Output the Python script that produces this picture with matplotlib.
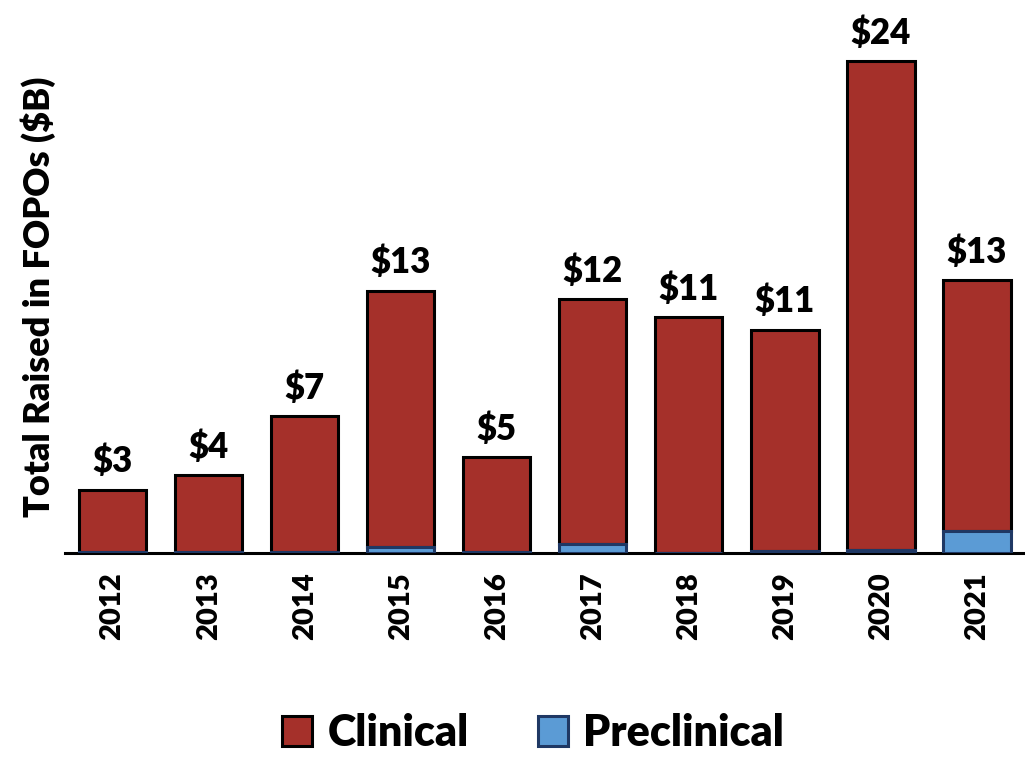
import matplotlib.pyplot as plt

years = ["2012", "2013", "2014", "2015", "2016", "2017", "2018", "2019", "2020", "2021"]
totals = [3.1, 3.8, 6.7, 12.8, 4.7, 12.4, 11.5, 10.9, 24.0, 13.3]
preclinical = [0.05, 0.05, 0.05, 0.3, 0.05, 0.45, 0.0, 0.1, 0.15, 1.1]
clinical = [t - p for t, p in zip(totals, preclinical)]
labels = ["$3", "$4", "$7", "$13", "$5", "$12", "$11", "$11", "$24", "$13"]

plt.rcParams['font.family'] = ['Lato', 'DejaVu Sans']
plt.rcParams['font.weight'] = 'bold'

fig = plt.figure(figsize=(10.25, 7.61), dpi=100)
ax = fig.add_axes([0.063, 0.273, 0.937, 0.674])

x = range(len(years))
ax.bar(x, preclinical, width=0.7, color="#5B9BD5", edgecolor="#1F3864",
       linewidth=2.2, label="Preclinical", zorder=3)
ax.bar(x, clinical, width=0.7, bottom=preclinical, color="#A5302A",
       edgecolor="black", linewidth=2.2, label="Clinical", zorder=2)

for i, t in enumerate(totals):
    ax.text(i, t + 0.55, labels[i], ha="center", va="bottom",
            fontsize=25, fontweight="heavy")

ax.set_xlim(-0.5, 9.5)
ax.set_ylim(0, 25)
ax.set_xticks(list(x))
ax.set_xticklabels(years, rotation=90, fontsize=21, fontweight="heavy")
ax.set_yticks([])
ax.tick_params(axis="x", length=0, pad=14)
for s in ["left", "right", "top"]:
    ax.spines[s].set_visible(False)
ax.spines["bottom"].set_linewidth(2.2)
ax.set_ylabel("Total Raised in FOPOs ($B)", fontsize=26, fontweight="heavy", labelpad=6)

handles, lbls = ax.get_legend_handles_labels()
fig.legend(handles[::-1], lbls[::-1], loc="lower center", ncol=2, frameon=False,
           prop={"size": 31, "weight": "heavy"}, handlelength=0.7, handleheight=0.7,
           columnspacing=1.6, handletextpad=0.35, bbox_to_anchor=(0.52, -0.04))

fig.savefig("out.png", dpi=100)
